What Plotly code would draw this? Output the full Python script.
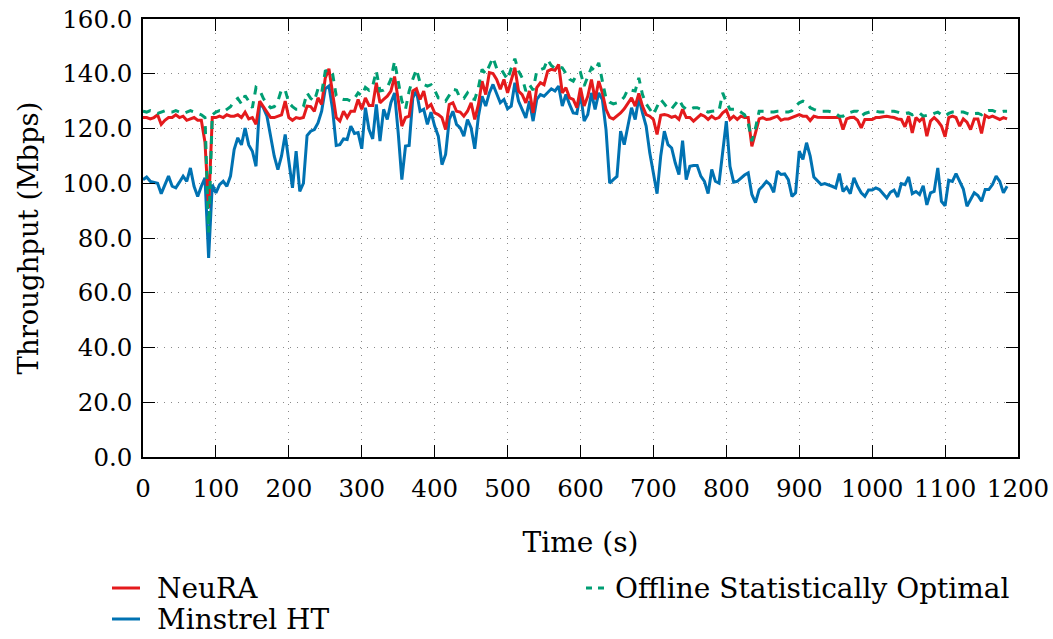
import plotly.graph_objects as go

# Sampling grid (s)
time_s = list(range(0, 1190, 5))

neura = [
    124, 124, 123.5, 124, 125, 121.5, 123, 124, 124, 125,          # 0-45
    124, 124.5, 123, 123.5, 124, 123, 123, 115, 91, 124,            # 50-95
    124, 124.5, 124, 125, 124.5, 124.5, 125, 124, 126, 123.5,       # 100-145
    124, 121.5, 130, 128, 126, 124, 124, 124.5, 125, 130,           # 150-195
    124, 123, 124, 123.7, 124, 128.2, 128, 126.3, 131.2, 128.8,     # 200-245
    138.5, 141.8, 133, 124, 122.7, 126.3, 124, 126.3, 126.3, 130.6, # 250-295
    127, 131.2, 128.4, 128.4, 136.7, 129.4, 130.6, 131.8, 133.7, 139, # 300-345
    130.6, 120.9, 124, 124.5, 133.7, 134.5, 130.6, 133.7, 127.6, 128.8, # 350-395
    125.7, 125.1, 124, 119.6, 128.8, 129.4, 126.3, 126, 124.5, 126.3,   # 400-445
    129.4, 123.3, 128.8, 137.3, 132.4, 140.4, 140.1, 137.9, 134.3, 137.9, # 450-495
    133, 137.9, 142.2, 133.7, 132.4, 129.4, 133.7, 125.7, 134.9, 136.7,   # 500-545
    136, 141, 141.6, 141.3, 143.4, 133, 134.9, 131.2, 130.6, 127.6,       # 550-595
    134.9, 128.2, 131.8, 137.9, 130.6, 137.3, 133, 127, 124.1, 123.5,     # 600-645
    124.5, 125.7, 127.2, 129.4, 131.2, 128.2, 132.8, 128.2, 125.1, 124.5, # 650-695
    123.3, 117.8, 124.8, 125.1, 124.8, 124.1, 124.5, 123.3, 127, 124,     # 700-745
    124, 122.7, 124, 125.1, 124.5, 123.3, 124.5, 123.5, 124, 125.7,       # 750-795
    126.7, 123.3, 124.5, 123.3, 124.5, 124, 124, 113.5, 118.4, 123.5,     # 800-845
    124, 123.3, 123.5, 124, 124.5, 123, 123.5, 123.5, 124, 124.5,         # 850-895
    125.1, 124.5, 124.5, 122.9, 124.5, 124.1, 124, 124.1, 124, 124,       # 900-945
    124.1, 124, 119.6, 123.5, 124, 124.1, 123, 120.2, 123.3, 123.3,       # 950-995
    123.3, 124, 124, 124.3, 124.5, 124.2, 124, 123.5, 123.3, 120.6,       # 1000-1045
    124.5, 118.4, 124, 122.7, 124, 117.2, 122.7, 124, 122.7, 120.9,       # 1050-1095
    117, 124, 124.5, 124, 120.9, 123.5, 122.3, 119.6, 123.5, 123.5,       # 1100-1145
    118.2, 124.8, 124, 124.5, 124, 123.3, 124, 123.5,                     # 1150-1185
]

minstrel = [
    101.3, 102.3, 100.7, 100.4, 100, 96.2, 99.5, 102.6, 98.9, 98.3,       # 0-45
    100.4, 102.6, 100.7, 105.6, 98.9, 95.2, 98.9, 102, 72.7, 99.5,        # 50-95
    96.5, 99.5, 100.7, 98.9, 102.6, 112.3, 116.6, 114, 120.2, 114,        # 100-145
    111.7, 106.2, 129.4, 127.6, 124.5, 117.2, 109.9, 105, 110, 117.8,     # 150-195
    108.7, 98.3, 111.7, 97, 100, 117.4, 119, 119.6, 122, 126.3,           # 200-245
    134.5, 135.5, 127, 113.8, 114.1, 116.2, 116, 120.9, 118.2, 118.5,     # 250-295
    112.6, 127.6, 119.6, 116.2, 128.8, 115.4, 127, 123.3, 129.4, 133,     # 300-345
    118.4, 101.3, 113.6, 113.8, 131.2, 133.7, 126.3, 127, 121.5, 126,     # 350-395
    120.9, 117.2, 106.8, 110.5, 123.3, 126.3, 121.5, 120.2, 117.2, 123.3, # 400-445
    120.2, 112.6, 124.5, 131.8, 128.2, 133, 136.1, 133, 129.4, 130.6,     # 450-495
    127.2, 128.2, 136.7, 130, 127, 123.9, 130, 122.7, 130.6, 132.4,       # 500-545
    131.8, 133.3, 134.5, 133.7, 135.5, 128.2, 132.4, 128.8, 125.7, 125.5, # 550-595
    133, 122.7, 125.1, 133, 127, 133, 130.6, 119.6, 100, 101.3,           # 600-645
    102.5, 119, 114.1, 120.9, 127.6, 123.3, 131.2, 125.7, 120.9, 111.1,   # 650-695
    103.8, 96.2, 109.9, 119, 114.1, 112.9, 107.4, 103.2, 115.6, 101.3,    # 700-745
    106.2, 106.5, 106.5, 102.6, 100.7, 96.2, 105, 100.7, 100, 112.3,      # 750-795
    122.7, 106.2, 100.4, 100.7, 102, 103, 103.8, 95.9, 92.9, 97.6,        # 800-845
    99, 100.7, 99.5, 96.7, 104.4, 103.2, 103.4, 101.3, 95.2, 96.5,        # 850-895
    111.7, 108.7, 114.8, 109.9, 102.3, 100.7, 99.5, 99.9, 99.5, 98.9,     # 900-945
    98.3, 103.5, 97, 98.5, 96.2, 102, 98.9, 96.5, 95.2, 97.5,             # 950-995
    97.5, 98.3, 97.7, 96, 94.6, 96.7, 97.5, 95, 99.9, 99.5,               # 1000-1045
    102.3, 96.2, 97, 95.9, 99.1, 92.1, 96.5, 97, 105.6, 93.4,             # 1050-1095
    91.8, 101.1, 100.7, 103.5, 100.7, 97.9, 91.6, 94, 96.5, 95.5,         # 1100-1145
    93.4, 97.7, 97.7, 99.5, 102.6, 100.7, 96.5, 98.9,                     # 1150-1185
]

offline = [
    126.3, 126, 126.5, 126, 125.5, 126, 126.5, 126, 126, 126.5,           # 0-45
    126, 125.5, 126, 126.5, 126, 125.5, 125, 124, 82, 125,                # 50-95
    126, 126.5, 126, 127, 128, 130, 131, 129, 132, 130,                   # 100-145
    127.6, 135, 134, 131, 129, 127.6, 128, 130, 134.3, 134,               # 150-195
    129.4, 128, 127, 127, 128, 133, 131, 130, 134.5, 133,                 # 200-245
    141, 141.5, 140, 132, 131, 130.6, 130.6, 130, 131, 133,               # 250-295
    132, 135, 134, 135.5, 141, 133.7, 134, 135, 138, 144.6,               # 300-345
    136.7, 130, 127, 133.7, 138, 141.6, 136.7, 136, 135.5, 136,           # 350-395
    134, 131.2, 131, 130, 132, 134.3, 134, 131, 131, 133,                 # 400-445
    131, 130.6, 135, 141.6, 140, 143, 145.9, 142, 142.2, 140,             # 450-495
    137.9, 142, 145.5, 141, 138.5, 133.7, 136, 134, 141, 141.5,           # 500-545
    142, 145.2, 143, 142, 142.5, 142.2, 140, 138, 137.3, 139.8,           # 550-595
    140.4, 135.5, 139, 142.2, 141, 144, 137.3, 131, 129.6, 129,           # 600-645
    129.4, 130, 131.5, 134.3, 134, 133.7, 138.5, 132.4, 129, 127,         # 650-695
    125.1, 128, 130.6, 129, 127.2, 127.2, 129, 130.6, 128.2, 127,         # 700-745
    127, 127.6, 127.6, 127, 126.5, 126, 126.3, 126.3, 126.5, 133,         # 750-795
    129.6, 127, 127, 127, 126, 125, 122, 115.4, 120.2, 126.3,             # 800-845
    126.3, 126.3, 126, 126, 126.3, 126.3, 126, 126, 126.5, 128.2,         # 850-895
    129.4, 130, 129.4, 127.6, 127, 126.5, 126.3, 126.3, 126.3, 126,       # 900-945
    125.5, 124.5, 124.5, 125.5, 126, 126.3, 126.3, 124.5, 125.5, 126,     # 950-995
    126.3, 126.3, 126, 126, 126, 126.3, 126.3, 126, 125.5, 125.5,         # 1000-1045
    125.7, 125, 125.5, 125.7, 124.5, 124.8, 124.8, 125.5, 126, 125,       # 1050-1095
    124.5, 125.5, 126, 126, 126, 126, 125.5, 125, 125.5, 125.6,           # 1100-1145
    125, 126.3, 126.6, 126.6, 126, 126, 126.3, 126.3,                     # 1150-1185
]

x_ticks = [0, 100, 200, 300, 400, 500, 600, 700, 800, 900, 1000, 1100, 1200]
y_ticks = [0, 20, 40, 60, 80, 100, 120, 140, 160]

names = ["NeuRA", "Minstrel HT", "Offline Statistically Optimal"]
colors = {"NeuRA": "#e41a1c", "Minstrel HT": "#0072b2",
          "Offline Statistically Optimal": "#009e73"}

FONT = "DejaVu Serif"

fig = go.Figure()
fig.add_trace(go.Scatter(x=time_s, y=minstrel, mode="lines", name=names[1],
                         line=dict(color=colors[names[1]], width=3), showlegend=False))
fig.add_trace(go.Scatter(x=time_s, y=neura, mode="lines", name=names[0],
                         line=dict(color=colors[names[0]], width=3), showlegend=False))
fig.add_trace(go.Scatter(x=time_s, y=offline, mode="lines", name=names[2],
                         line=dict(color=colors[names[2]], width=3, dash="8px,7px"),
                         showlegend=False))

axis_common = dict(
    showline=True, linecolor="black", linewidth=1.5, mirror="allticks",
    ticks="inside", ticklen=12, tickcolor="black", tickwidth=1,
    showgrid=True, gridcolor="#8a8a8a", griddash="1px,6px", gridwidth=1.2,
    zeroline=False, automargin=False,
    tickfont=dict(family=FONT, size=24.5, color="black"),
)

fig.update_xaxes(range=[0, 1200], tickvals=x_ticks, ticklabelstandoff=9,
                 title=dict(text="Time (s)", font=dict(family=FONT, size=28, color="black"),
                            standoff=30),
                 **axis_common)
fig.update_yaxes(range=[0, 160], tickvals=y_ticks, tickformat=".1f", ticklabelstandoff=4,
                 title=dict(text="Throughput (Mbps)", font=dict(family=FONT, size=27.5, color="black"),
                            standoff=16),
                 **axis_common)

# Manual legend (paper coordinates)
def px_x(px):
    return (px - 143) / 875.0

def px_y(py):
    return 1 - (py - 19) / 438.0

legend_items = [
    (names[0], 112, 140, 155, 588, "solid"),
    (names[1], 112, 140, 155, 619, "solid"),
    (names[2], 586, 606, 613, 588, "dash"),
]
for name, x0, x1, xt, yy, dash in legend_items:
    fig.add_shape(type="line", xref="paper", yref="paper",
                  x0=px_x(x0), x1=px_x(x1), y0=px_y(yy), y1=px_y(yy),
                  line=dict(color=colors[name], width=3,
                            dash="6px,6px" if dash == "dash" else "solid"))
    fig.add_annotation(xref="paper", yref="paper", x=px_x(xt), y=px_y(yy),
                       text=name, showarrow=False, xanchor="left", yanchor="middle",
                       font=dict(family=FONT, size=28, color="black"))

fig.update_layout(
    width=1053, height=639,
    margin=dict(l=143, r=35, t=19, b=182),
    paper_bgcolor="white", plot_bgcolor="white",
    font=dict(family=FONT, size=26, color="black"),
)

fig.write_html("out.html")
